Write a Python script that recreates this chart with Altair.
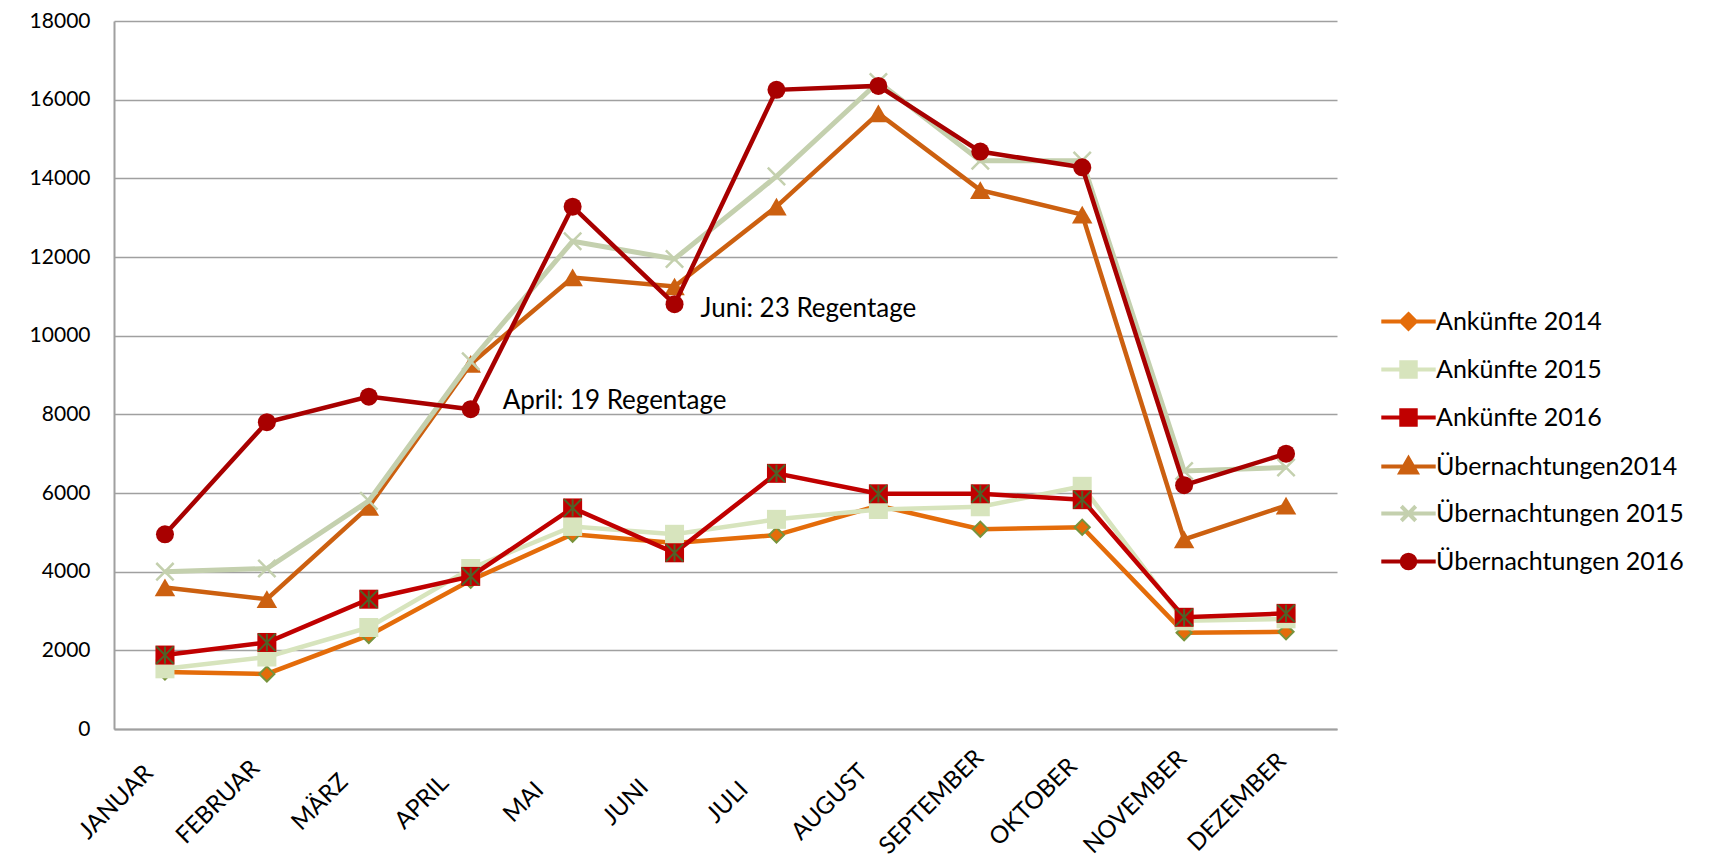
import altair as alt
import pandas as pd

# ---------------- data ----------------
months = ["JANUAR", "FEBRUAR", "MÄRZ", "APRIL", "MAI", "JUNI", "JULI",
          "AUGUST", "SEPTEMBER", "OKTOBER", "NOVEMBER", "DEZEMBER"]

series_names = ["Ankünfte 2014", "Ankünfte 2015", "Ankünfte 2016",
                "Übernachtungen2014", "Übernachtungen 2015", "Übernachtungen 2016"]

ank_2014 = [1450, 1400, 2380, 3780, 4950, 4730, 4930, 5680, 5080, 5130, 2450, 2470]
ank_2015 = [1530, 1830, 2580, 4080, 5150, 4950, 5330, 5580, 5650, 6170, 2750, 2800]
ank_2016 = [1880, 2200, 3300, 3880, 5620, 4480, 6500, 5980, 5980, 5830, 2840, 2940]
ueb_2014 = [3600, 3300, 5650, 9280, 11480, 11250, 13280, 15650, 13700, 13080, 4820, 5680]
ueb_2015 = [4000, 4080, 5800, 9350, 12400, 11950, 14050, 16450, 14450, 14450, 6560, 6650]
ueb_2016 = [4950, 7800, 8450, 8130, 13280, 10800, 16250, 16350, 14680, 14280, 6200, 7000]

ann_months = ["APRIL", "JUNI"]
ann_texts = ["April: 19 Regentage", "Juni: 23 Regentage"]
ann_values = [ueb_2016[3], ueb_2016[5]]

y_ticks = list(range(0, 18001, 2000))

# ---------------- styles ----------------
FONT = "Lato"
line_colors = ["#E46C0A", "#D7E4BD", "#C00000", "#CC6010", "#C4D0AE", "#A80000"]
line_widths = [4.5, 4.5, 4.5, 4.5, 5, 4.5]

all_series = [ank_2014, ank_2015, ank_2016, ueb_2014, ueb_2015, ueb_2016]
rows = []
for s, vals in zip(series_names, all_series):
    for m, v in zip(months, vals):
        rows.append({"Monat": m, "Wert": v, "Serie": s})
df = pd.DataFrame(rows)

x_enc = alt.X(
    "Monat:N", sort=months, title=None,
    scale=alt.Scale(type="point", padding=0.5),
    axis=alt.Axis(labelAngle=-45, labelFont=FONT, labelFontSize=24, labelColor="#000000",
                  ticks=False, domainColor="#A0A0A0", domainWidth=2, grid=False,
                  labelPadding=73, labelOffset=-49, labelAlign="center",
                  labelBaseline="middle", labelLimit=0),
)
y_enc = alt.Y(
    "Wert:Q", title=None,
    scale=alt.Scale(domain=[0, 18000], nice=False),
    axis=alt.Axis(values=y_ticks, format="d", labelFont=FONT, labelFontSize=21,
                  labelColor="#000000", ticks=False, domainColor="#A0A0A0", domainWidth=2,
                  gridColor="#A0A0A0", gridWidth=1.6, labelPadding=24),
)

base = alt.Chart(df)

X_PATH = "M-1,-1L1,1M-1,1L1,-1"
STAR_PATH = "M-1,-1L1,1M-1,1L1,-1M0,-1L0,1"

marker_specs = [
    [dict(shape="diamond", size=230, filled=True, fill="#E46C0A", stroke="#77933C", strokeWidth=2)],
    [dict(shape="square", size=361, filled=True, fill="#D7E4BD", strokeWidth=0)],
    [dict(shape="square", size=361, filled=True, fill="#C00000", strokeWidth=0),
     dict(shape=STAR_PATH, size=300, filled=False, stroke="#4F6228", strokeWidth=2)],
    [dict(shape="triangle-up", size=420, filled=True, fill="#CC6010", strokeWidth=0)],
    [dict(shape=X_PATH, size=300, filled=False, stroke="#C4D0AE", strokeWidth=2.5)],
    [dict(shape="circle", size=324, filled=True, fill="#A80000", strokeWidth=0)],
]

layers = []
for s, col, lw, mk in zip(series_names, line_colors, line_widths, marker_specs):
    sub = base.transform_filter(alt.datum.Serie == s)
    layers.append(sub.mark_line(strokeWidth=lw, color=col).encode(x=x_enc, y=y_enc))
    for spec in mk:
        layers.append(sub.mark_point(opacity=1, **spec).encode(x=x_enc, y=y_enc))

# legend-only layer (invisible points, legend draws line + marker symbols)
L = "M-3.2,0L3.2,0"
legend_paths = [
    L + "M0,-0.85L0.85,0L0,0.85L-0.85,0Z",
    L + "M-0.85,-0.85L0.85,-0.85L0.85,0.85L-0.85,0.85Z",
    L + "M-0.85,-0.85L0.85,-0.85L0.85,0.85L-0.85,0.85Z",
    L + "M0,-0.95L0.95,0.7L-0.95,0.7Z",
    L + "M-0.85,-0.85L0.85,0.85M-0.85,0.85L0.85,-0.85",
    L + "M0.8,0A0.8,0.8,0,1,1,-0.8,0A0.8,0.8,0,1,1,0.8,0Z",
]
leg = alt.Legend(title=None, orient="none", legendX=1282, legendY=288,
                 labelFont=FONT, labelFontSize=25, labelColor="#000000", labelLimit=0,
                 symbolSize=289, symbolStrokeWidth=4, symbolOpacity=1,
                 labelOffset=15, rowPadding=17)
legend_layer = base.mark_point(opacity=0, strokeWidth=4).encode(
    x=x_enc, y=y_enc,
    shape=alt.Shape("Serie:N", sort=series_names,
                    scale=alt.Scale(domain=series_names, range=legend_paths), legend=leg),
    fill=alt.Fill("Serie:N", sort=series_names,
                  scale=alt.Scale(domain=series_names, range=line_colors), legend=leg),
    stroke=alt.Stroke("Serie:N", sort=series_names,
                      scale=alt.Scale(domain=series_names, range=line_colors), legend=leg),
)
layers.append(legend_layer)

# annotations
ann_df = pd.DataFrame({"Monat": ann_months, "Wert": ann_values, "Text": ann_texts})
ann_base = alt.Chart(ann_df)
ann_offsets = [(32, -8), (26, 5)]
for m, (dx, dy) in zip(ann_months, ann_offsets):
    layers.append(
        ann_base.transform_filter(alt.datum.Monat == m)
        .mark_text(align="left", baseline="middle", dx=dx, dy=dy, font=FONT,
                   fontSize=26, color="#000000")
        .encode(x=x_enc, y=y_enc, text="Text:N")
    )

chart = (
    alt.layer(*layers)
    .properties(width=1223, height=708,
                padding={"left": 106, "top": 13, "right": 371, "bottom": 129},
                autosize=alt.AutoSizeParams(type="none"))
    .configure_view(stroke=None)
)

chart.save("out.html", embed_options={"renderer": "svg", "actions": False})
